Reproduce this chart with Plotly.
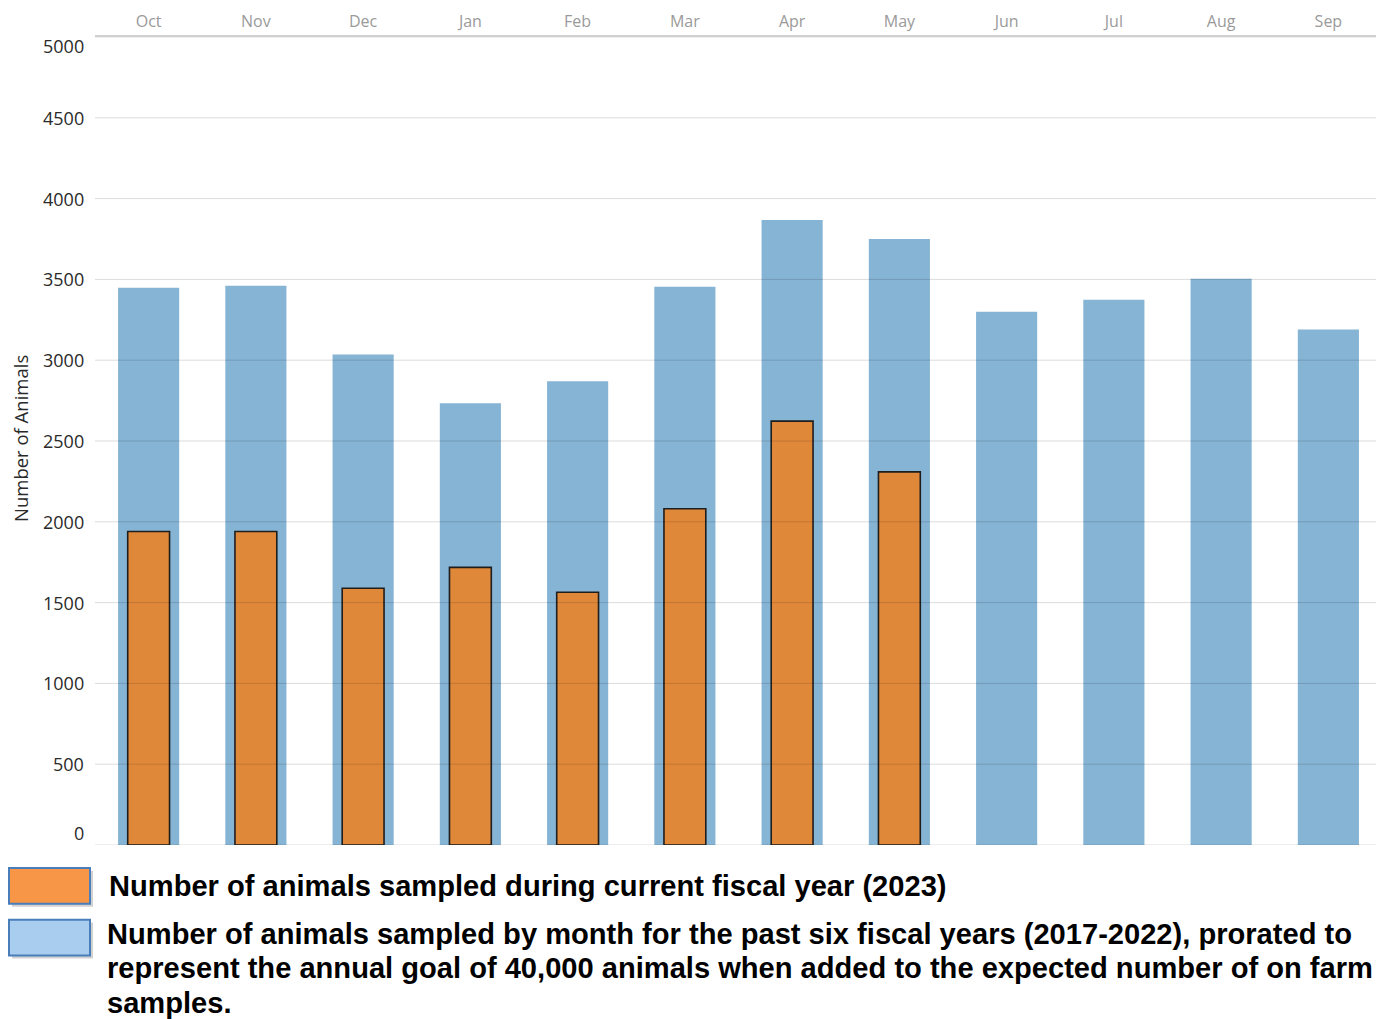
import plotly.graph_objects as go

months = ["Oct", "Nov", "Dec", "Jan", "Feb", "Mar", "Apr", "May", "Jun", "Jul", "Aug", "Sep"]
prorated_past = [3448, 3461, 3036, 2734, 2869, 3455, 3867, 3750, 3300, 3374, 3504, 3190]
current_months = ["Oct", "Nov", "Dec", "Jan", "Feb", "Mar", "Apr", "May"]
current_fy = [1940, 1940, 1589, 1718, 1564, 2081, 2623, 2309]
y_ticks = [0, 500, 1000, 1500, 2000, 2500, 3000, 3500, 4000, 4500, 5000]
y_title = "Number of Animals"

legend_current = "Number of animals sampled during current fiscal year (2023)"
legend_past_lines = [
    "Number of animals sampled by month for the past six fiscal years (2017-2022), prorated to",
    "represent the annual goal of 40,000 animals when added to the expected number of on farm",
    "samples.",
]

OFF = 8  # page body margin
W, H = 1376, 1011
L, R, T, B = 87, 2, 25, 174
PW, PH = W - L - R, H - T - B


def px(x):
    return (x - OFF - L) / PW


def py(y):
    return (H - B - (y - OFF)) / PH


fig = go.Figure()
fig.add_trace(go.Bar(
    x=months, y=prorated_past, width=0.57,
    marker=dict(color="#86B4D4", line=dict(width=0)),
    name="Past six fiscal years (prorated)", showlegend=False,
))
fig.add_trace(go.Bar(
    x=current_months, y=current_fy, width=0.39,
    marker=dict(color="#E0883A", line=dict(width=1.6, color="#1e1e1e")),
    name="Current fiscal year (2023)", showlegend=False,
))

shapes = []
for v in y_ticks:
    shapes.append(dict(type="line", xref="paper", yref="y", x0=0, x1=1, y0=v, y1=v,
                       line=dict(color="rgba(0,0,0,0.14)", width=1), layer="above"))

# legend swatches
def swatch(x0, y0, x1, y1, fill):
    shapes.append(dict(type="rect", xref="paper", yref="paper",
                       x0=px(x0 + 3), x1=px(x1 + 3), y0=py(y1 + 3), y1=py(y0 + 3),
                       fillcolor="rgba(0,0,0,0.18)", line=dict(width=0), layer="above"))
    shapes.append(dict(type="rect", xref="paper", yref="paper",
                       x0=px(x0), x1=px(x1), y0=py(y1), y1=py(y0),
                       fillcolor=fill, line=dict(color="#4A7EBB", width=2), layer="above"))

swatch(9, 868, 90, 904, "#F79646")
swatch(9, 920, 90, 956, "#A9CDEF")

legend_font = dict(family="Liberation Sans, Arial, sans-serif", size=29.1, color="#000000")
annotations = [dict(text="<b>%s</b>" % legend_current, xref="paper", yref="paper",
                    x=px(107), y=py(886), xanchor="left", yanchor="middle",
                    showarrow=False, font=legend_font)]
for i, line in enumerate(legend_past_lines):
    annotations.append(dict(text="<b>%s</b>" % line, xref="paper", yref="paper",
                            x=px(105), y=py(934 + 35 * i), xanchor="left", yanchor="middle",
                            showarrow=False, font=legend_font))

# y tick labels (edge labels nudged inside the plot, as in the reference)
tick_font = dict(family="Open Sans, sans-serif", size=18, color="#2a2a2a")
for v in y_ticks:
    shift = -9 if v == max(y_ticks) else (12 if v == min(y_ticks) else 0)
    annotations.append(dict(text=str(v), xref="paper", yref="y", x=0, y=v,
                            xanchor="right", yanchor="middle", xshift=-9, yshift=shift,
                            showarrow=False, font=tick_font))

annotations.append(dict(text=y_title, xref="paper", yref="paper", x=px(20), y=py(437),
                        xanchor="center", yanchor="middle", textangle=-90, showarrow=False,
                        font=dict(family="Open Sans, sans-serif", size=18.5, color="#2a2a2a")))

fig.update_layout(
    width=W, height=H,
    margin=dict(l=L, r=R, t=T, b=B),
    paper_bgcolor="white", plot_bgcolor="white",
    barmode="overlay",
    shapes=shapes,
    annotations=annotations,
    font=dict(family="Open Sans, sans-serif"),
    xaxis=dict(
        side="top", categoryorder="array", categoryarray=months,
        showline=True, linecolor="#d0d0d0", linewidth=2,
        showgrid=False, ticks="", ticklabelstandoff=2,
        tickfont=dict(family="Open Sans, sans-serif", size=16, color="#9a9a9a"),
    ),
    yaxis=dict(
        range=[0, 5000], tickvals=y_ticks, showgrid=False, zeroline=False,
        showline=False, ticks="", showticklabels=False,
    ),
)

fig.write_html("out.html")
